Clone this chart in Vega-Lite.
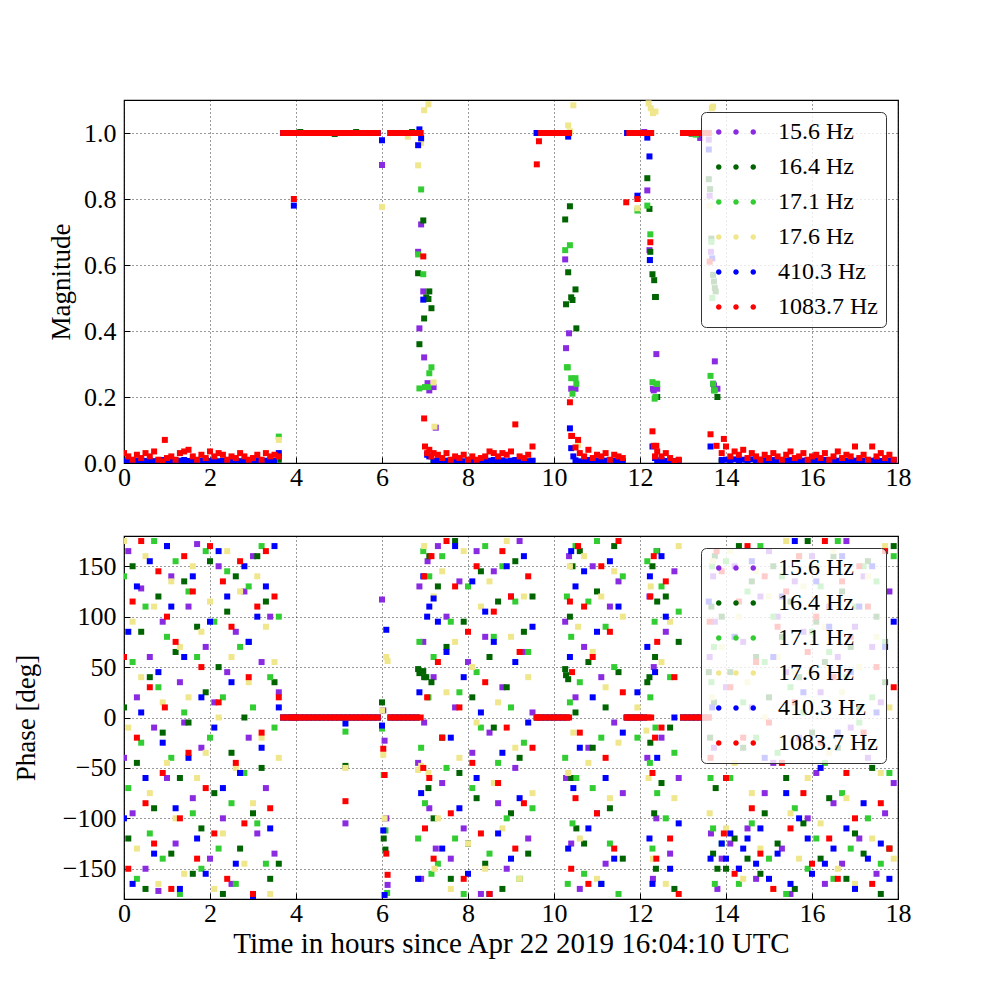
{
  "$schema": "https://vega.github.io/schema/vega-lite/v6.json",
  "description": "Magnitude and phase of six lines over 18 hours.",
  "padding": {"left": 11, "top": 99, "right": 0, "bottom": 0},
  "background": "white",
  "config": {
    "font": "Liberation Serif",
    "style": {"guide-label": {"font": "Liberation Serif"}, "guide-title": {"font": "Liberation Serif"}},
    "view": {"stroke": "black", "strokeWidth": 1.2},
    "square": {"size": 36, "opacity": 1, "strokeWidth": 0},
    "axis": {
      "labelFont": "Liberation Serif", "labelFontSize": 26, "labelColor": "black",
      "titleFont": "Liberation Serif", "titleFontSize": 27, "titleFontWeight": "normal", "titleColor": "black",
      "domain": false, "grid": true, "gridColor": "black", "gridDash": [1, 3], "gridWidth": 0.8, "gridOpacity": 1,
      "tickColor": "black", "tickSize": -6, "tickWidth": 1, "labelOverlap": false, "labelFlush": false
    },
    "axisX": {"labelPadding": 7},
    "axisY": {"labelPadding": 14}
  },
  "datasets": {
    "a": [
      {"t":0,"m":0.004,"p":-40},{"t":0.1,"m":0.005,"p":165},{"t":0.2,"m":0.003,"p":-95},{"t":0.3,"m":0.006,"p":20},{"t":0.4,"m":0.004,"p":128},{"t":0.5,"m":0.005,"p":-150},{"t":0.6,"m":0.003,"p":60},{"t":0.7,"m":0.006,"p":-10},{"t":0.8,"m":0.004,"p":-172},{"t":0.9,"m":0.005,"p":95},{"t":1,"m":0.003,"p":-60},{"t":1.1,"m":0.006,"p":140},{"t":1.2,"m":0.004,"p":-125},{"t":1.3,"m":0.005,"p":35},{"t":1.4,"m":0.003,"p":-5},{"t":1.5,"m":0.006,"p":110},{"t":1.6,"m":0.004,"p":-80},{"t":1.7,"m":0.005,"p":172},{"t":1.8,"m":0.003,"p":-30},{"t":1.9,"m":0.006,"p":70},{"t":2,"m":0.004,"p":-140},{"t":2.1,"m":0.005,"p":15},{"t":2.2,"m":0.003,"p":150},{"t":2.3,"m":0.006,"p":-100},{"t":2.4,"m":0.004,"p":45},{"t":2.5,"m":0.005,"p":-165},{"t":2.6,"m":0.003,"p":85},{"t":2.7,"m":0.006,"p":-55},{"t":2.8,"m":0.004,"p":125},{"t":2.9,"m":0.005,"p":-20},{"t":3,"m":0.003,"p":160},{"t":3.1,"m":0.006,"p":-115},{"t":3.2,"m":0.004,"p":55},{"t":3.3,"m":0.005,"p":-70},{"t":3.4,"m":0.003,"p":100},{"t":3.5,"m":0.006,"p":-135},{"t":3.6,"m":0.02,"p":25},
      {"t":3.7,"m":1,"p":0},{"t":3.8,"m":1,"p":0},{"t":3.9,"m":1,"p":0},{"t":4,"m":1,"p":0},{"t":4.1,"m":1,"p":0},{"t":4.2,"m":1,"p":0},{"t":4.3,"m":1,"p":0},{"t":4.4,"m":1,"p":0},{"t":4.5,"m":1,"p":0},{"t":4.6,"m":1,"p":0},{"t":4.7,"m":1,"p":0},{"t":4.8,"m":1,"p":0},{"t":4.9,"m":1,"p":0},{"t":5,"m":1,"p":0},{"t":5.1,"m":1,"p":0},{"t":5.15,"m":1,"p":-105},{"t":5.2,"m":1,"p":0},{"t":5.3,"m":1,"p":0},{"t":5.4,"m":1,"p":0},{"t":5.5,"m":1,"p":0},{"t":5.6,"m":1,"p":0},{"t":5.7,"m":1,"p":0},{"t":5.8,"m":1,"p":0},{"t":5.9,"m":1,"p":0},
      {"t":6,"m":0.903,"p":117},{"t":6.03,"m":1.15,"p":7},{"t":6.06,"m":1.15,"p":-23},{"t":6.1,"m":1.15,"p":-100},{"t":6.13,"m":1.15,"p":-166},
      {"t":6.2,"m":1,"p":0},{"t":6.3,"m":1,"p":0},{"t":6.4,"m":1,"p":0},{"t":6.5,"m":1,"p":0},{"t":6.6,"m":1,"p":0},{"t":6.7,"m":1,"p":0},{"t":6.8,"m":1,"p":0},
      {"t":6.84,"m":0.64,"p":-45},{"t":6.87,"m":0.408,"p":130},{"t":6.91,"m":0.723,"p":-160},{"t":6.96,"m":0.52,"p":75},{"t":6.98,"m":0.32,"p":-5},{"t":7.06,"m":0.242,"p":155},{"t":7.1,"m":0.22,"p":-90},{"t":7.2,"m":0.23,"p":40},{"t":7.25,"m":0.107,"p":-130},
      {"t":7.3,"m":0.004,"p":170},{"t":7.4,"m":0.005,"p":-65},{"t":7.5,"m":0.003,"p":100},{"t":7.6,"m":0.006,"p":-140},{"t":7.7,"m":0.004,"p":10},{"t":7.8,"m":0.005,"p":135},{"t":7.9,"m":0.003,"p":-110},{"t":8,"m":0.006,"p":55},{"t":8.1,"m":0.004,"p":-35},{"t":8.2,"m":0.005,"p":165},{"t":8.3,"m":0.003,"p":-175},{"t":8.4,"m":0.006,"p":80},{"t":8.5,"m":0.004,"p":-15},{"t":8.6,"m":0.005,"p":145},{"t":8.7,"m":0.003,"p":-85},{"t":8.8,"m":0.006,"p":30},{"t":8.9,"m":0.004,"p":-150},{"t":9,"m":0.005,"p":120},{"t":9.1,"m":0.003,"p":-50},{"t":9.2,"m":0.006,"p":175},{"t":9.3,"m":0.004,"p":65},{"t":9.4,"m":0.005,"p":-120},{"t":9.5,"m":0.003,"p":5},
      {"t":9.6,"m":1,"p":0},{"t":9.7,"m":1,"p":0},{"t":9.8,"m":1,"p":0},{"t":9.9,"m":1,"p":0},{"t":10,"m":1,"p":0},{"t":10.1,"m":1,"p":0},{"t":10.2,"m":1,"p":0},
      {"t":10.26,"m":0.617,"p":95},{"t":10.28,"m":0.348,"p":-60},{"t":10.35,"m":0.393,"p":160},{"t":10.4,"m":0.225,"p":-125},{"t":10.5,"m":0.225,"p":20},
      {"t":10.6,"m":0.004,"p":-170},{"t":10.7,"m":0.005,"p":70},{"t":10.8,"m":0.003,"p":-30},{"t":10.9,"m":0.006,"p":150},{"t":11,"m":0.004,"p":-95},{"t":11.1,"m":0.005,"p":40},{"t":11.2,"m":0.003,"p":-145},{"t":11.3,"m":0.006,"p":110},{"t":11.4,"m":0.004,"p":-5},{"t":11.5,"m":0.005,"p":135},{"t":11.6,"m":0.003,"p":-75},
      {"t":11.7,"m":1,"p":0},{"t":11.8,"m":1,"p":0},{"t":11.9,"m":1,"p":0},{"t":12,"m":1,"p":0},{"t":12.1,"m":1.003,"p":0},
      {"t":12.17,"m":0.826,"p":-40},{"t":12.22,"m":0.645,"p":120},{"t":12.3,"m":0.225,"p":-160},{"t":12.32,"m":0.22,"p":50},{"t":12.38,"m":0.33,"p":-100},{"t":12.4,"m":0.225,"p":165},
      {"t":12.5,"m":0.004,"p":-20},{"t":12.6,"m":0.005,"p":85},{"t":12.7,"m":0.003,"p":-135},{"t":12.8,"m":0.006,"p":145},{"t":12.9,"m":0.004,"p":-60},
      {"t":13,"m":1,"p":0},{"t":13.1,"m":1,"p":0},{"t":13.2,"m":1,"p":0},{"t":13.3,"m":1,"p":0},{"t":13.4,"m":0.985,"p":0},{"t":13.5,"m":1,"p":0},{"t":13.6,"m":0.98,"p":0},
      {"t":13.62,"m":0.81,"p":60},{"t":13.65,"m":0.64,"p":-115},{"t":13.7,"m":0.24,"p":140},{"t":13.72,"m":0.235,"p":-30},{"t":13.74,"m":0.308,"p":95},{"t":13.8,"m":0.225,"p":-170},
      {"t":13.9,"m":0.004,"p":-140},{"t":14,"m":0.005,"p":30},{"t":14.1,"m":0.003,"p":-125},{"t":14.2,"m":0.006,"p":150},{"t":14.3,"m":0.004,"p":-150},{"t":14.4,"m":0.005,"p":75},{"t":14.5,"m":0.003,"p":-110},{"t":14.6,"m":0.006,"p":10},{"t":14.7,"m":0.004,"p":-160},{"t":14.8,"m":0.005,"p":120},{"t":14.9,"m":0.003,"p":-75},{"t":15,"m":0.006,"p":165},{"t":15.1,"m":0.004,"p":-45},{"t":15.2,"m":0.005,"p":100},{"t":15.3,"m":0.003,"p":-130},{"t":15.4,"m":0.006,"p":45},{"t":15.5,"m":0.004,"p":-175},{"t":15.6,"m":0.005,"p":135},{"t":15.7,"m":0.003,"p":-20},{"t":15.8,"m":0.006,"p":85},{"t":15.9,"m":0.004,"p":-100},{"t":16,"m":0.005,"p":160},{"t":16.1,"m":0.003,"p":-55},{"t":16.2,"m":0.006,"p":25},{"t":16.3,"m":0.004,"p":-165},{"t":16.4,"m":0.005,"p":110},{"t":16.5,"m":0.003,"p":-85},{"t":16.6,"m":0.006,"p":60},{"t":16.7,"m":0.004,"p":-145},{"t":16.8,"m":0.005,"p":175},{"t":16.9,"m":0.003,"p":-10},{"t":17,"m":0.006,"p":90},{"t":17.1,"m":0.004,"p":-120},{"t":17.2,"m":0.005,"p":140},{"t":17.3,"m":0.003,"p":-40},{"t":17.4,"m":0.006,"p":70},{"t":17.5,"m":0.004,"p":-155},{"t":17.6,"m":0.005,"p":15},{"t":17.7,"m":0.003,"p":-95},{"t":17.8,"m":0.006,"p":125},{"t":17.9,"m":0.004,"p":-65}
    ],
    "b": [
      {"t":0,"m":0.005,"p":10},{"t":0.1,"m":0.003,"p":-120},{"t":0.2,"m":0.006,"p":150},{"t":0.3,"m":0.004,"p":-45},{"t":0.4,"m":0.005,"p":85},{"t":0.5,"m":0.003,"p":-170},{"t":0.6,"m":0.006,"p":40},{"t":0.7,"m":0.004,"p":-90},{"t":0.8,"m":0.005,"p":120},{"t":0.9,"m":0.003,"p":-15},{"t":1,"m":0.006,"p":170},{"t":1.1,"m":0.004,"p":-135},{"t":1.2,"m":0.005,"p":65},{"t":1.3,"m":0.003,"p":-60},{"t":1.4,"m":0.006,"p":135},{"t":1.5,"m":0.004,"p":-5},{"t":1.6,"m":0.005,"p":-155},{"t":1.7,"m":0.003,"p":90},{"t":1.8,"m":0.006,"p":-110},{"t":1.9,"m":0.004,"p":25},{"t":2,"m":0.005,"p":155},{"t":2.1,"m":0.003,"p":-75},{"t":2.2,"m":0.006,"p":50},{"t":2.3,"m":0.004,"p":-175},{"t":2.4,"m":0.005,"p":105},{"t":2.5,"m":0.003,"p":-35},{"t":2.6,"m":0.006,"p":140},{"t":2.7,"m":0.004,"p":-130},{"t":2.8,"m":0.005,"p":0},{"t":2.9,"m":0.003,"p":75},{"t":3,"m":0.006,"p":-95},{"t":3.1,"m":0.004,"p":160},{"t":3.2,"m":0.005,"p":-50},{"t":3.3,"m":0.003,"p":115},{"t":3.4,"m":0.006,"p":-160},{"t":3.5,"m":0.004,"p":35},{"t":3.6,"m":0.01,"p":-145},
      {"t":3.7,"m":1,"p":0},{"t":3.8,"m":1,"p":0},{"t":3.9,"m":1,"p":0},{"t":4,"m":1,"p":0},{"t":4.1,"m":1.003,"p":0},{"t":4.2,"m":1,"p":0},{"t":4.3,"m":1,"p":0},{"t":4.4,"m":1,"p":0},{"t":4.5,"m":1,"p":0},{"t":4.6,"m":1,"p":0},{"t":4.7,"m":1,"p":0},{"t":4.8,"m":1,"p":0},{"t":4.9,"m":0.997,"p":0},{"t":5,"m":1,"p":0},{"t":5.1,"m":1,"p":0},{"t":5.15,"m":1,"p":-48},{"t":5.2,"m":1,"p":0},{"t":5.3,"m":1,"p":0},{"t":5.4,"m":1.003,"p":0},{"t":5.5,"m":1,"p":0},{"t":5.6,"m":1,"p":0},{"t":5.7,"m":1,"p":0},{"t":5.8,"m":1,"p":0},{"t":5.9,"m":1,"p":0},
      {"t":6,"m":1.15,"p":15},{"t":6.04,"m":1.15,"p":-120},{"t":6.08,"m":1.15,"p":-131},
      {"t":6.2,"m":1,"p":0},{"t":6.3,"m":1,"p":0},{"t":6.4,"m":1,"p":0},{"t":6.5,"m":1,"p":0},{"t":6.6,"m":1,"p":0},{"t":6.7,"m":1.003,"p":0},{"t":6.8,"m":1,"p":0},
      {"t":6.84,"m":0.575,"p":48},{"t":6.87,"m":0.36,"p":44},{"t":6.96,"m":0.735,"p":46},{"t":6.98,"m":0.438,"p":40},{"t":7.03,"m":0.502,"p":40},{"t":7.08,"m":0.497,"p":-70},{"t":7.1,"m":0.52,"p":160},{"t":7.15,"m":0.469,"p":35},
      {"t":7.2,"m":0.005,"p":-100},{"t":7.3,"m":0.003,"p":130},{"t":7.4,"m":0.006,"p":-20},{"t":7.5,"m":0.004,"p":70},{"t":7.6,"m":0.005,"p":-160},{"t":7.7,"m":0.003,"p":175},{"t":7.8,"m":0.006,"p":-55},{"t":7.9,"m":0.004,"p":95},{"t":8,"m":0.005,"p":-125},{"t":8.1,"m":0.003,"p":20},{"t":8.2,"m":0.006,"p":-80},{"t":8.3,"m":0.004,"p":145},{"t":8.4,"m":0.005,"p":-145},{"t":8.5,"m":0.003,"p":60},{"t":8.6,"m":0.006,"p":-10},{"t":8.7,"m":0.004,"p":115},{"t":8.8,"m":0.005,"p":-170},{"t":8.9,"m":0.003,"p":30},{"t":9,"m":0.006,"p":-95},{"t":9.1,"m":0.004,"p":155},{"t":9.2,"m":0.005,"p":-40},{"t":9.3,"m":0.003,"p":85},{"t":9.4,"m":0.006,"p":-135},{"t":9.5,"m":0.004,"p":120},
      {"t":9.6,"m":1,"p":0},{"t":9.7,"m":1,"p":0},{"t":9.8,"m":1,"p":0},{"t":9.9,"m":1,"p":0},{"t":10,"m":1,"p":0},{"t":10.1,"m":1,"p":0},{"t":10.2,"m":1,"p":0},
      {"t":10.26,"m":0.738,"p":48},{"t":10.28,"m":0.481,"p":42},{"t":10.33,"m":0.578,"p":38},{"t":10.37,"m":0.778,"p":100},{"t":10.4,"m":0.502,"p":-60},{"t":10.43,"m":0.494,"p":150},{"t":10.5,"m":0.526,"p":5},{"t":10.52,"m":0.408,"p":-110},
      {"t":10.6,"m":0.005,"p":165},{"t":10.7,"m":0.003,"p":-125},{"t":10.8,"m":0.006,"p":55},{"t":10.9,"m":0.004,"p":-30},{"t":11,"m":0.005,"p":125},{"t":11.1,"m":0.003,"p":-165},{"t":11.2,"m":0.006,"p":10},{"t":11.3,"m":0.004,"p":-90},{"t":11.4,"m":0.005,"p":170},{"t":11.5,"m":0.003,"p":45},{"t":11.6,"m":0.006,"p":-140},
      {"t":11.7,"m":1,"p":0},{"t":11.8,"m":1,"p":0},{"t":11.9,"m":1,"p":0},{"t":12,"m":1,"p":0},{"t":12.1,"m":1,"p":0},
      {"t":12.17,"m":0.863,"p":35},{"t":12.22,"m":0.77,"p":40},{"t":12.24,"m":0.64,"p":-25},{"t":12.29,"m":0.572,"p":150},{"t":12.33,"m":0.554,"p":-95},{"t":12.35,"m":0.503,"p":60},{"t":12.37,"m":0.503,"p":-150},{"t":12.4,"m":0.2,"p":115},
      {"t":12.5,"m":0.005,"p":-65},{"t":12.6,"m":0.003,"p":120},{"t":12.7,"m":0.006,"p":-10},{"t":12.8,"m":0.004,"p":-170},{"t":12.9,"m":0.005,"p":75},
      {"t":13,"m":1,"p":0},{"t":13.1,"m":1,"p":0},{"t":13.2,"m":0.998,"p":0},{"t":13.3,"m":1,"p":0},{"t":13.4,"m":1,"p":0},{"t":13.5,"m":1,"p":0},
      {"t":13.6,"m":0.86,"p":45},{"t":13.63,"m":0.83,"p":-20},{"t":13.66,"m":0.68,"p":110},{"t":13.7,"m":0.57,"p":-135},{"t":13.72,"m":0.55,"p":15},{"t":13.74,"m":0.53,"p":160},{"t":13.76,"m":0.52,"p":-70},{"t":13.8,"m":0.2,"p":-150},
      {"t":13.9,"m":0.005,"p":100},{"t":14,"m":0.003,"p":-150},{"t":14.1,"m":0.006,"p":45},{"t":14.2,"m":0.004,"p":-120},{"t":14.3,"m":0.005,"p":170},{"t":14.4,"m":0.003,"p":-30},{"t":14.5,"m":0.006,"p":-140},{"t":14.6,"m":0.004,"p":135},{"t":14.7,"m":0.005,"p":60},{"t":14.8,"m":0.003,"p":-155},{"t":14.9,"m":0.006,"p":-95},{"t":15,"m":0.004,"p":20},{"t":15.1,"m":0.005,"p":150},{"t":15.2,"m":0.003,"p":-125},{"t":15.3,"m":0.006,"p":80},{"t":15.4,"m":0.004,"p":-60},{"t":15.5,"m":0.005,"p":115},{"t":15.6,"m":0.003,"p":-170},{"t":15.7,"m":0.006,"p":40},{"t":15.8,"m":0.004,"p":-105},{"t":15.9,"m":0.005,"p":175},{"t":16,"m":0.003,"p":-15},{"t":16.1,"m":0.006,"p":95},{"t":16.2,"m":0.004,"p":-140},{"t":16.3,"m":0.005,"p":55},{"t":16.4,"m":0.003,"p":-80},{"t":16.5,"m":0.006,"p":160},{"t":16.6,"m":0.004,"p":-30},{"t":16.7,"m":0.005,"p":125},{"t":16.8,"m":0.003,"p":-160},{"t":16.9,"m":0.006,"p":70},{"t":17,"m":0.004,"p":-115},{"t":17.1,"m":0.005,"p":10},{"t":17.2,"m":0.003,"p":-135},{"t":17.3,"m":0.006,"p":155},{"t":17.4,"m":0.004,"p":-50},{"t":17.5,"m":0.005,"p":100},{"t":17.6,"m":0.003,"p":-175},{"t":17.7,"m":0.006,"p":35},{"t":17.8,"m":0.004,"p":-130},{"t":17.9,"m":0.005,"p":170}
    ],
    "c": [
      {"t":0,"m":0.003,"p":140},{"t":0.1,"m":0.006,"p":-70},{"t":0.2,"m":0.004,"p":55},{"t":0.3,"m":0.005,"p":-160},{"t":0.4,"m":0.003,"p":-25},{"t":0.5,"m":0.006,"p":110},{"t":0.6,"m":0.004,"p":-115},{"t":0.7,"m":0.005,"p":175},{"t":0.8,"m":0.003,"p":30},{"t":0.9,"m":0.006,"p":-140},{"t":1,"m":0.004,"p":80},{"t":1.1,"m":0.005,"p":-40},{"t":1.2,"m":0.003,"p":155},{"t":1.3,"m":0.006,"p":-175},{"t":1.4,"m":0.004,"p":5},{"t":1.5,"m":0.005,"p":125},{"t":1.6,"m":0.003,"p":-95},{"t":1.7,"m":0.006,"p":60},{"t":1.8,"m":0.004,"p":-150},{"t":1.9,"m":0.005,"p":165},{"t":2,"m":0.003,"p":-20},{"t":2.1,"m":0.006,"p":95},{"t":2.2,"m":0.004,"p":-130},{"t":2.3,"m":0.005,"p":20},{"t":2.4,"m":0.003,"p":145},{"t":2.5,"m":0.006,"p":-85},{"t":2.6,"m":0.004,"p":-165},{"t":2.7,"m":0.005,"p":70},{"t":2.8,"m":0.003,"p":-55},{"t":2.9,"m":0.006,"p":130},{"t":3,"m":0.004,"p":10},{"t":3.1,"m":0.005,"p":-105},{"t":3.2,"m":0.003,"p":170},{"t":3.3,"m":0.006,"p":-145},{"t":3.4,"m":0.004,"p":40},{"t":3.5,"m":0.005,"p":-10},{"t":3.6,"m":0.08,"p":100},
      {"t":3.7,"m":1,"p":0},{"t":3.8,"m":1,"p":0},{"t":3.9,"m":1,"p":0},{"t":4,"m":1,"p":0},{"t":4.1,"m":1,"p":0},{"t":4.2,"m":1,"p":0},{"t":4.3,"m":1,"p":0},{"t":4.4,"m":1,"p":0},{"t":4.5,"m":1,"p":0},{"t":4.6,"m":1,"p":0},{"t":4.7,"m":1,"p":0},{"t":4.8,"m":1,"p":0},{"t":4.9,"m":1,"p":0},{"t":5,"m":1,"p":0},{"t":5.1,"m":1,"p":0},{"t":5.15,"m":1,"p":-14},{"t":5.2,"m":1,"p":0},{"t":5.3,"m":1,"p":0},{"t":5.4,"m":1,"p":0},{"t":5.5,"m":1,"p":0},{"t":5.6,"m":1,"p":0},{"t":5.7,"m":1,"p":0},{"t":5.8,"m":1,"p":0},{"t":5.9,"m":1,"p":0},
      {"t":6,"m":1.15,"p":-11},{"t":6.04,"m":1.15,"p":-57},{"t":6.08,"m":1.15,"p":-112},{"t":6.12,"m":1.15,"p":-174},
      {"t":6.2,"m":1,"p":0},{"t":6.3,"m":1,"p":0},{"t":6.4,"m":1,"p":0},{"t":6.5,"m":1,"p":0},{"t":6.6,"m":1,"p":0},{"t":6.7,"m":1,"p":0},{"t":6.8,"m":1,"p":0},
      {"t":6.84,"m":0.632,"p":-120},{"t":6.87,"m":0.226,"p":75},{"t":6.91,"m":0.829,"p":-30},{"t":6.96,"m":0.572,"p":165},{"t":7,"m":0.23,"p":-85},{"t":7.08,"m":0.23,"p":20},{"t":7.1,"m":0.272,"p":140},{"t":7.15,"m":0.29,"p":-155},
      {"t":7.2,"m":0.003,"p":60},{"t":7.3,"m":0.006,"p":-145},{"t":7.4,"m":0.004,"p":160},{"t":7.5,"m":0.005,"p":-50},{"t":7.6,"m":0.003,"p":95},{"t":7.7,"m":0.006,"p":-120},{"t":7.8,"m":0.004,"p":25},{"t":7.9,"m":0.005,"p":-175},{"t":8,"m":0.003,"p":130},{"t":8.1,"m":0.006,"p":-70},{"t":8.2,"m":0.004,"p":45},{"t":8.3,"m":0.005,"p":-10},{"t":8.4,"m":0.003,"p":170},{"t":8.5,"m":0.006,"p":-135},{"t":8.6,"m":0.004,"p":80},{"t":8.7,"m":0.005,"p":-45},{"t":8.8,"m":0.003,"p":150},{"t":8.9,"m":0.006,"p":-100},{"t":9,"m":0.004,"p":10},{"t":9.1,"m":0.005,"p":115},{"t":9.2,"m":0.003,"p":-160},{"t":9.3,"m":0.006,"p":-25},{"t":9.4,"m":0.004,"p":65},{"t":9.5,"m":0.005,"p":-90},
      {"t":9.6,"m":1,"p":0},{"t":9.7,"m":1,"p":0},{"t":9.8,"m":1,"p":0},{"t":9.9,"m":1,"p":0},{"t":10,"m":1,"p":0},{"t":10.1,"m":1,"p":0},{"t":10.2,"m":1,"p":0},
      {"t":10.26,"m":0.645,"p":-40},{"t":10.3,"m":0.29,"p":120},{"t":10.32,"m":0.29,"p":-165},{"t":10.37,"m":0.66,"p":15},{"t":10.4,"m":0.257,"p":80},{"t":10.43,"m":0.21,"p":-105},{"t":10.5,"m":0.257,"p":170},{"t":10.52,"m":0.24,"p":-60},
      {"t":10.6,"m":0.003,"p":35},{"t":10.7,"m":0.006,"p":-155},{"t":10.8,"m":0.004,"p":115},{"t":10.9,"m":0.005,"p":-70},{"t":11,"m":0.003,"p":175},{"t":11.1,"m":0.006,"p":-20},{"t":11.2,"m":0.004,"p":90},{"t":11.3,"m":0.005,"p":-125},{"t":11.4,"m":0.003,"p":50},{"t":11.5,"m":0.006,"p":-175},{"t":11.6,"m":0.004,"p":140},
      {"t":11.7,"m":1,"p":0},{"t":11.8,"m":1,"p":0},{"t":11.9,"m":1,"p":0},{"t":11.94,"m":0.765,"p":-20},{"t":12,"m":1,"p":0},{"t":12.1,"m":1,"p":0},
      {"t":12.17,"m":0.78,"p":155},{"t":12.23,"m":0.615,"p":-45},{"t":12.24,"m":0.693,"p":20},{"t":12.29,"m":0.245,"p":-130},{"t":12.34,"m":0.195,"p":95},{"t":12.36,"m":0.2,"p":-10},{"t":12.38,"m":0.24,"p":165},{"t":12.4,"m":0.24,"p":-75},
      {"t":12.5,"m":0.003,"p":130},{"t":12.6,"m":0.006,"p":-100},{"t":12.7,"m":0.004,"p":40},{"t":12.8,"m":0.005,"p":-35},{"t":12.9,"m":0.003,"p":105},
      {"t":13,"m":1,"p":0},{"t":13.1,"m":1,"p":0},{"t":13.2,"m":1,"p":0},{"t":13.3,"m":0.995,"p":0},{"t":13.4,"m":1,"p":0},{"t":13.5,"m":1,"p":0},{"t":13.6,"m":1,"p":0},
      {"t":13.64,"m":0.264,"p":-60},{"t":13.66,"m":0.67,"p":35},{"t":13.68,"m":0.5,"p":150},{"t":13.7,"m":0.24,"p":-110},{"t":13.72,"m":0.22,"p":70},{"t":13.74,"m":0.22,"p":-165},
      {"t":13.9,"m":0.003,"p":-125},{"t":14,"m":0.006,"p":155},{"t":14.1,"m":0.004,"p":-60},{"t":14.2,"m":0.005,"p":80},{"t":14.3,"m":0.003,"p":-165},{"t":14.4,"m":0.006,"p":15},{"t":14.5,"m":0.004,"p":125},{"t":14.6,"m":0.005,"p":-105},{"t":14.7,"m":0.003,"p":-20},{"t":14.8,"m":0.006,"p":170},{"t":14.9,"m":0.004,"p":55},{"t":15,"m":0.005,"p":-140},{"t":15.1,"m":0.003,"p":100},{"t":15.2,"m":0.006,"p":-35},{"t":15.3,"m":0.004,"p":140},{"t":15.4,"m":0.005,"p":-175},{"t":15.5,"m":0.003,"p":30},{"t":15.6,"m":0.006,"p":-90},{"t":15.7,"m":0.004,"p":160},{"t":15.8,"m":0.005,"p":5},{"t":15.9,"m":0.003,"p":-150},{"t":16,"m":0.006,"p":85},{"t":16.1,"m":0.004,"p":-120},{"t":16.2,"m":0.005,"p":130},{"t":16.3,"m":0.003,"p":-45},{"t":16.4,"m":0.006,"p":65},{"t":16.5,"m":0.004,"p":-160},{"t":16.6,"m":0.005,"p":175},{"t":16.7,"m":0.003,"p":-75},{"t":16.8,"m":0.006,"p":40},{"t":16.9,"m":0.004,"p":-130},{"t":17,"m":0.005,"p":110},{"t":17.1,"m":0.003,"p":-5},{"t":17.2,"m":0.006,"p":150},{"t":17.3,"m":0.004,"p":-100},{"t":17.4,"m":0.005,"p":20},{"t":17.5,"m":0.003,"p":135},{"t":17.6,"m":0.006,"p":-145},{"t":17.7,"m":0.004,"p":75},{"t":17.8,"m":0.005,"p":-55},{"t":17.9,"m":0.003,"p":160}
    ],
    "d": [
      {"t":0,"m":0.006,"p":175},{"t":0.1,"m":0.004,"p":-10},{"t":0.2,"m":0.005,"p":95},{"t":0.3,"m":0.003,"p":-130},{"t":0.4,"m":0.006,"p":40},{"t":0.5,"m":0.004,"p":160},{"t":0.6,"m":0.005,"p":-75},{"t":0.7,"m":0.003,"p":110},{"t":0.8,"m":0.006,"p":-165},{"t":0.9,"m":0.004,"p":15},{"t":1,"m":0.005,"p":-45},{"t":1.1,"m":0.003,"p":135},{"t":1.2,"m":0.006,"p":-100},{"t":1.3,"m":0.004,"p":70},{"t":1.4,"m":0.005,"p":-155},{"t":1.5,"m":0.003,"p":20},{"t":1.6,"m":0.006,"p":150},{"t":1.7,"m":0.004,"p":-60},{"t":1.8,"m":0.005,"p":85},{"t":1.9,"m":0.003,"p":-35},{"t":2,"m":0.006,"p":115},{"t":2.1,"m":0.004,"p":-170},{"t":2.2,"m":0.005,"p":0},{"t":2.3,"m":0.003,"p":-115},{"t":2.4,"m":0.006,"p":165},{"t":2.5,"m":0.004,"p":60},{"t":2.6,"m":0.005,"p":-50},{"t":2.7,"m":0.003,"p":125},{"t":2.8,"m":0.006,"p":-145},{"t":2.9,"m":0.004,"p":35},{"t":3,"m":0.005,"p":-85},{"t":3.1,"m":0.003,"p":140},{"t":3.2,"m":0.006,"p":-20},{"t":3.3,"m":0.004,"p":90},{"t":3.4,"m":0.005,"p":-175},{"t":3.5,"m":0.003,"p":55},{"t":3.6,"m":0.07,"p":-40},
      {"t":3.7,"m":1,"p":0},{"t":3.8,"m":1,"p":0},{"t":3.9,"m":1,"p":0},{"t":4,"m":1,"p":0},{"t":4.1,"m":1,"p":0},{"t":4.2,"m":1,"p":0},{"t":4.3,"m":1,"p":0},{"t":4.4,"m":1,"p":0},{"t":4.5,"m":1,"p":0},{"t":4.6,"m":1,"p":0},{"t":4.7,"m":1,"p":0},{"t":4.8,"m":1,"p":0},{"t":4.9,"m":1,"p":0},{"t":5,"m":1,"p":0},{"t":5.1,"m":1,"p":0},{"t":5.15,"m":1,"p":-50},{"t":5.2,"m":1,"p":0},{"t":5.3,"m":1,"p":0},{"t":5.4,"m":1,"p":0},{"t":5.5,"m":1,"p":0},{"t":5.6,"m":1,"p":0},{"t":5.7,"m":1,"p":0},{"t":5.8,"m":1,"p":0},{"t":5.9,"m":1,"p":0},
      {"t":6,"m":0.776,"p":7},{"t":6.03,"m":1.15,"p":-37},{"t":6.06,"m":1.15,"p":-100},{"t":6.1,"m":1.15,"p":60},{"t":6.13,"m":1.15,"p":56},
      {"t":6.2,"m":1,"p":0},{"t":6.3,"m":1,"p":0},{"t":6.4,"m":1,"p":0},{"t":6.5,"m":1,"p":0},{"t":6.6,"m":0.989,"p":0},{"t":6.7,"m":1,"p":0},{"t":6.8,"m":1,"p":0},
      {"t":6.84,"m":0.902,"p":-52},{"t":6.91,"m":0.97,"p":-48},{"t":6.98,"m":1.069,"p":170},{"t":7.08,"m":1.087,"p":-55},{"t":7.2,"m":0.244,"p":120},{"t":7.22,"m":0.11,"p":-150},
      {"t":7.3,"m":0.006,"p":-100},{"t":7.4,"m":0.004,"p":145},{"t":7.5,"m":0.005,"p":25},{"t":7.6,"m":0.003,"p":-170},{"t":7.7,"m":0.006,"p":75},{"t":7.8,"m":0.004,"p":-40},{"t":7.9,"m":0.005,"p":165},{"t":8,"m":0.003,"p":-125},{"t":8.1,"m":0.006,"p":50},{"t":8.2,"m":0.004,"p":-5},{"t":8.3,"m":0.005,"p":110},{"t":8.4,"m":0.003,"p":-150},{"t":8.5,"m":0.006,"p":135},{"t":8.6,"m":0.004,"p":-65},{"t":8.7,"m":0.005,"p":15},{"t":8.8,"m":0.003,"p":-110},{"t":8.9,"m":0.006,"p":175},{"t":9,"m":0.004,"p":80},{"t":9.1,"m":0.005,"p":-30},{"t":9.2,"m":0.003,"p":-160},{"t":9.3,"m":0.006,"p":120},{"t":9.4,"m":0.004,"p":40},{"t":9.5,"m":0.005,"p":-75},
      {"t":9.6,"m":1,"p":0},{"t":9.7,"m":1,"p":0},{"t":9.8,"m":1,"p":0},{"t":9.9,"m":1,"p":0},{"t":10,"m":1,"p":0},{"t":10.1,"m":1,"p":0},{"t":10.2,"m":1,"p":0},{"t":10.3,"m":1,"p":0},
      {"t":10.33,"m":1.023,"p":-55},{"t":10.37,"m":1.005,"p":150},{"t":10.45,"m":1.084,"p":-15},{"t":10.56,"m":0.055,"p":90},
      {"t":10.6,"m":0.006,"p":-120},{"t":10.7,"m":0.004,"p":160},{"t":10.8,"m":0.005,"p":-45},{"t":10.9,"m":0.003,"p":65},{"t":11,"m":0.006,"p":-160},{"t":11.1,"m":0.004,"p":120},{"t":11.2,"m":0.005,"p":30},{"t":11.3,"m":0.003,"p":-80},{"t":11.4,"m":0.006,"p":145},{"t":11.5,"m":0.004,"p":-25},{"t":11.6,"m":0.005,"p":100},
      {"t":11.7,"m":1,"p":0},{"t":11.8,"m":1,"p":0},{"t":11.9,"m":1,"p":0},{"t":11.94,"m":0.772,"p":10},{"t":12,"m":1,"p":0},{"t":12.1,"m":1,"p":0},
      {"t":12.15,"m":1,"p":-13},{"t":12.2,"m":1.09,"p":-60},{"t":12.25,"m":1.075,"p":130},{"t":12.3,"m":1.06,"p":-140},{"t":12.36,"m":1.065,"p":45},
      {"t":12.5,"m":0.006,"p":55},{"t":12.6,"m":0.004,"p":-165},{"t":12.7,"m":0.005,"p":95},{"t":12.8,"m":0.003,"p":-80},{"t":12.9,"m":0.006,"p":170},
      {"t":13,"m":1,"p":0},{"t":13.1,"m":1,"p":0},{"t":13.2,"m":1,"p":0},{"t":13.3,"m":1,"p":0},{"t":13.4,"m":1,"p":0},{"t":13.5,"m":1,"p":0},{"t":13.6,"m":1,"p":0},
      {"t":13.62,"m":0.78,"p":-95},{"t":13.67,"m":1.075,"p":20},{"t":13.7,"m":1.08,"p":155},
      {"t":13.9,"m":0.006,"p":70},{"t":14,"m":0.004,"p":-110},{"t":14.1,"m":0.005,"p":165},{"t":14.2,"m":0.003,"p":-45},{"t":14.3,"m":0.006,"p":100},{"t":14.4,"m":0.004,"p":-160},{"t":14.5,"m":0.005,"p":35},{"t":14.6,"m":0.003,"p":-75},{"t":14.7,"m":0.006,"p":145},{"t":14.8,"m":0.004,"p":-130},{"t":14.9,"m":0.005,"p":0},{"t":15,"m":0.003,"p":120},{"t":15.1,"m":0.006,"p":-170},{"t":15.2,"m":0.004,"p":60},{"t":15.3,"m":0.005,"p":-20},{"t":15.4,"m":0.003,"p":175},{"t":15.5,"m":0.006,"p":-95},{"t":15.6,"m":0.004,"p":45},{"t":15.7,"m":0.005,"p":-140},{"t":15.8,"m":0.003,"p":130},{"t":15.9,"m":0.006,"p":-60},{"t":16,"m":0.004,"p":15},{"t":16.1,"m":0.005,"p":150},{"t":16.2,"m":0.003,"p":-105},{"t":16.3,"m":0.006,"p":90},{"t":16.4,"m":0.004,"p":-35},{"t":16.5,"m":0.005,"p":165},{"t":16.6,"m":0.003,"p":-150},{"t":16.7,"m":0.006,"p":25},{"t":16.8,"m":0.004,"p":-80},{"t":16.9,"m":0.005,"p":115},{"t":17,"m":0.003,"p":-165},{"t":17.1,"m":0.006,"p":50},{"t":17.2,"m":0.004,"p":-25},{"t":17.3,"m":0.005,"p":140},{"t":17.4,"m":0.003,"p":-120},{"t":17.5,"m":0.006,"p":80},{"t":17.6,"m":0.004,"p":-55},{"t":17.7,"m":0.005,"p":170},{"t":17.8,"m":0.003,"p":10},{"t":17.9,"m":0.006,"p":-140}
    ],
    "e": [
      {"t":0,"m":0.006,"p":-100},{"t":0.1,"m":0.008,"p":85},{"t":0.2,"m":0.005,"p":-165},{"t":0.3,"m":0.007,"p":130},{"t":0.4,"m":0.009,"p":5},{"t":0.5,"m":0.006,"p":-60},{"t":0.6,"m":0.008,"p":155},{"t":0.7,"m":0.005,"p":-135},{"t":0.8,"m":0.007,"p":45},{"t":0.9,"m":0.009,"p":-25},{"t":1,"m":0.006,"p":170},{"t":1.1,"m":0.008,"p":110},{"t":1.2,"m":0.005,"p":-90},{"t":1.3,"m":0.007,"p":-170},{"t":1.4,"m":0.009,"p":60},{"t":1.5,"m":0.006,"p":-40},{"t":1.6,"m":0.008,"p":140},{"t":1.7,"m":0.005,"p":-120},{"t":1.8,"m":0.007,"p":20},{"t":1.9,"m":0.009,"p":-155},{"t":2,"m":0.006,"p":95},{"t":2.1,"m":0.008,"p":-10},{"t":2.2,"m":0.005,"p":165},{"t":2.3,"m":0.007,"p":-70},{"t":2.4,"m":0.009,"p":120},{"t":2.5,"m":0.006,"p":35},{"t":2.6,"m":0.008,"p":-145},{"t":2.7,"m":0.005,"p":-55},{"t":2.8,"m":0.007,"p":150},{"t":2.9,"m":0.009,"p":75},{"t":3,"m":0.006,"p":-178},{"t":3.1,"m":0.008,"p":100},{"t":3.2,"m":0.005,"p":-30},{"t":3.3,"m":0.007,"p":130},{"t":3.4,"m":0.009,"p":-110},{"t":3.5,"m":0.006,"p":170},{"t":3.6,"m":0.03,"p":10},
      {"t":3.7,"m":1,"p":0},{"t":3.8,"m":1,"p":0},{"t":3.9,"m":1,"p":0},{"t":3.95,"m":0.78,"p":0},{"t":4,"m":1,"p":0},{"t":4.1,"m":1,"p":0},{"t":4.2,"m":1,"p":0},{"t":4.3,"m":1,"p":0},{"t":4.4,"m":1,"p":0},{"t":4.5,"m":1,"p":0},{"t":4.6,"m":1,"p":0},{"t":4.7,"m":1,"p":0},{"t":4.8,"m":1,"p":0},{"t":4.9,"m":1,"p":0},{"t":5,"m":1,"p":0},{"t":5.1,"m":1,"p":0},{"t":5.15,"m":1,"p":-6},{"t":5.2,"m":1,"p":0},{"t":5.3,"m":1,"p":0},{"t":5.4,"m":1,"p":0},{"t":5.5,"m":1,"p":0},{"t":5.6,"m":1,"p":0},{"t":5.7,"m":1,"p":0},{"t":5.8,"m":1,"p":0},{"t":5.9,"m":1,"p":0},
      {"t":6,"m":0.978,"p":-8},{"t":6.03,"m":1.15,"p":-112},{"t":6.06,"m":1.15,"p":-176},{"t":6.1,"m":1.15,"p":87},
      {"t":6.2,"m":1,"p":0},{"t":6.3,"m":1,"p":0},{"t":6.4,"m":1,"p":0},{"t":6.5,"m":1,"p":0},{"t":6.6,"m":1,"p":0},{"t":6.7,"m":1,"p":0},{"t":6.8,"m":1,"p":0},
      {"t":6.84,"m":0.963,"p":-160},{"t":6.87,"m":1.011,"p":25},{"t":6.91,"m":0.984,"p":-75},{"t":6.96,"m":0.495,"p":140},{"t":7.05,"m":0.025,"p":100},{"t":7.1,"m":0.02,"p":110},
      {"t":7.2,"m":0.006,"p":118},{"t":7.3,"m":0.008,"p":95},{"t":7.4,"m":0.005,"p":-130},{"t":7.5,"m":0.007,"p":65},{"t":7.6,"m":0.009,"p":-20},{"t":7.7,"m":0.006,"p":170},{"t":7.8,"m":0.008,"p":-90},{"t":7.9,"m":0.005,"p":40},{"t":8,"m":0.007,"p":-155},{"t":8.1,"m":0.009,"p":135},{"t":8.2,"m":0.006,"p":-60},{"t":8.3,"m":0.008,"p":5},{"t":8.4,"m":0.005,"p":105},{"t":8.5,"m":0.007,"p":-175},{"t":8.6,"m":0.009,"p":75},{"t":8.7,"m":0.006,"p":-115},{"t":8.8,"m":0.008,"p":-35},{"t":8.9,"m":0.005,"p":150},{"t":9,"m":0.007,"p":-140},{"t":9.1,"m":0.009,"p":55},{"t":9.2,"m":0.006,"p":-80},{"t":9.3,"m":0.008,"p":160},{"t":9.4,"m":0.005,"p":-5},{"t":9.5,"m":0.007,"p":90},
      {"t":9.6,"m":1,"p":0},{"t":9.7,"m":1,"p":0},{"t":9.8,"m":1,"p":0},{"t":9.9,"m":1,"p":0},{"t":10,"m":1,"p":0},{"t":10.1,"m":1,"p":0},{"t":10.2,"m":1,"p":0},{"t":10.3,"m":1,"p":0},
      {"t":10.33,"m":0.989,"p":-130},{"t":10.37,"m":0.105,"p":60},{"t":10.4,"m":0.045,"p":165},{"t":10.45,"m":0.02,"p":-70},
      {"t":10.5,"m":0.008,"p":130},{"t":10.6,"m":0.005,"p":-30},{"t":10.7,"m":0.007,"p":145},{"t":10.8,"m":0.009,"p":-110},{"t":10.9,"m":0.006,"p":20},{"t":11,"m":0.008,"p":85},{"t":11.1,"m":0.005,"p":-165},{"t":11.2,"m":0.007,"p":-60},{"t":11.3,"m":0.009,"p":155},{"t":11.4,"m":0.006,"p":-140},{"t":11.5,"m":0.008,"p":110},{"t":11.6,"m":0.005,"p":-15},
      {"t":11.7,"m":1,"p":0},{"t":11.8,"m":1,"p":0},{"t":11.9,"m":1,"p":0},{"t":11.94,"m":0.81,"p":25},{"t":12,"m":1,"p":0},{"t":12.1,"m":1,"p":0},
      {"t":12.17,"m":0.986,"p":70},{"t":12.22,"m":0.929,"p":-120},{"t":12.23,"m":0.615,"p":140},{"t":12.29,"m":0.05,"p":-165},{"t":12.35,"m":0.015,"p":45},
      {"t":12.4,"m":0.007,"p":-40},{"t":12.5,"m":0.009,"p":160},{"t":12.6,"m":0.006,"p":100},{"t":12.7,"m":0.008,"p":-150},{"t":12.8,"m":0.005,"p":0},{"t":12.9,"m":0.007,"p":-105},
      {"t":13,"m":1,"p":0},{"t":13.1,"m":1,"p":0},{"t":13.2,"m":1,"p":0},{"t":13.3,"m":1,"p":0},{"t":13.4,"m":1,"p":0},{"t":13.5,"m":1,"p":0},
      {"t":13.6,"m":0.95,"p":115},{"t":13.64,"m":0.05,"p":-140},{"t":13.68,"m":0.62,"p":10},
      {"t":13.9,"m":0.009,"p":-125},{"t":14,"m":0.01,"p":-140},{"t":14.1,"m":0.008,"p":-115},{"t":14.2,"m":0.011,"p":80},{"t":14.3,"m":0.009,"p":-150},{"t":14.4,"m":0.01,"p":-130},{"t":14.5,"m":0.008,"p":-120},{"t":14.6,"m":0.011,"p":155},{"t":14.7,"m":0.009,"p":-145},{"t":14.8,"m":0.01,"p":-110},{"t":14.9,"m":0.008,"p":-40},{"t":15,"m":0.007,"p":-160},{"t":15.1,"m":0.009,"p":60},{"t":15.2,"m":0.006,"p":-135},{"t":15.3,"m":0.008,"p":120},{"t":15.4,"m":0.007,"p":-75},{"t":15.5,"m":0.009,"p":-165},{"t":15.6,"m":0.006,"p":175},{"t":15.7,"m":0.008,"p":-100},{"t":15.8,"m":0.007,"p":25},{"t":15.9,"m":0.009,"p":-120},{"t":16,"m":0.006,"p":-155},{"t":16.1,"m":0.008,"p":135},{"t":16.2,"m":0.007,"p":-50},{"t":16.3,"m":0.009,"p":-145},{"t":16.4,"m":0.006,"p":90},{"t":16.5,"m":0.008,"p":-130},{"t":16.6,"m":0.007,"p":-15},{"t":16.7,"m":0.009,"p":160},{"t":16.8,"m":0.006,"p":-110},{"t":16.9,"m":0.008,"p":45},{"t":17,"m":0.007,"p":-170},{"t":17.1,"m":0.009,"p":110},{"t":17.2,"m":0.006,"p":-85},{"t":17.3,"m":0.008,"p":-140},{"t":17.4,"m":0.007,"p":150},{"t":17.5,"m":0.009,"p":5},{"t":17.6,"m":0.006,"p":-125},{"t":17.7,"m":0.008,"p":70},{"t":17.8,"m":0.007,"p":-160},{"t":17.9,"m":0.009,"p":95}
    ],
    "f": [
      {"t":0,"m":0.03,"p":60},{"t":0.1,"m":0.02,"p":-150},{"t":0.2,"m":0.01,"p":115},{"t":0.3,"m":0.025,"p":-20},{"t":0.4,"m":0.015,"p":175},{"t":0.5,"m":0.03,"p":-85},{"t":0.6,"m":0.02,"p":30},{"t":0.7,"m":0.035,"p":-125},{"t":0.8,"m":0.01,"p":145},{"t":0.9,"m":0.005,"p":-55},{"t":0.95,"m":0.07,"p":10},{"t":1,"m":0.015,"p":100},{"t":1.1,"m":0.02,"p":-170},{"t":1.2,"m":0.01,"p":75},{"t":1.3,"m":0.03,"p":-100},{"t":1.4,"m":0.035,"p":160},{"t":1.5,"m":0.04,"p":-35},{"t":1.6,"m":0.02,"p":125},{"t":1.7,"m":0.01,"p":-140},{"t":1.8,"m":0.025,"p":50},{"t":1.9,"m":0.015,"p":-70},{"t":2,"m":0.035,"p":170},{"t":2.1,"m":0.02,"p":-115},{"t":2.2,"m":0.03,"p":15},{"t":2.3,"m":0.025,"p":135},{"t":2.4,"m":0.01,"p":-160},{"t":2.5,"m":0.02,"p":90},{"t":2.6,"m":0.015,"p":-45},{"t":2.7,"m":0.03,"p":155},{"t":2.8,"m":0.02,"p":-105},{"t":2.9,"m":0.01,"p":40},{"t":3,"m":0.015,"p":-175},{"t":3.1,"m":0.025,"p":110},{"t":3.2,"m":0.01,"p":-15},{"t":3.3,"m":0.03,"p":165},{"t":3.4,"m":0.02,"p":-90},{"t":3.5,"m":0.025,"p":120},{"t":3.6,"m":0.02,"p":20},
      {"t":3.7,"m":1,"p":0},{"t":3.8,"m":1,"p":0},{"t":3.9,"m":1,"p":0},{"t":3.95,"m":0.8,"p":0},{"t":4,"m":1,"p":0},{"t":4.1,"m":1,"p":0},{"t":4.2,"m":1,"p":0},{"t":4.3,"m":1,"p":0},{"t":4.4,"m":1,"p":0},{"t":4.5,"m":1,"p":0},{"t":4.6,"m":1,"p":0},{"t":4.7,"m":1,"p":0},{"t":4.8,"m":1,"p":0},{"t":4.9,"m":1,"p":0},{"t":5,"m":1,"p":0},{"t":5.1,"m":1,"p":0},{"t":5.15,"m":1,"p":-83},{"t":5.2,"m":1,"p":0},{"t":5.3,"m":1,"p":0},{"t":5.4,"m":1,"p":0},{"t":5.5,"m":1,"p":0},{"t":5.6,"m":1,"p":0},{"t":5.7,"m":1,"p":0},{"t":5.8,"m":1,"p":0},{"t":5.9,"m":1,"p":0},
      {"t":6.03,"m":1.15,"p":-31},{"t":6.06,"m":1.15,"p":-57},{"t":6.1,"m":1.15,"p":-135},{"t":6.13,"m":1.15,"p":-156},
      {"t":6.2,"m":1,"p":0},{"t":6.3,"m":1,"p":0},{"t":6.4,"m":1,"p":0},{"t":6.5,"m":1,"p":0},{"t":6.6,"m":1,"p":0},{"t":6.7,"m":1,"p":0},{"t":6.8,"m":1,"p":0},{"t":6.9,"m":1,"p":0},
      {"t":6.96,"m":0.626,"p":-50},{"t":6.98,"m":0.135,"p":140},{"t":7,"m":0.05,"p":-110},{"t":7.05,"m":0.03,"p":20},{"t":7.1,"m":0.04,"p":-60},{"t":7.15,"m":0.02,"p":160},
      {"t":7.2,"m":0.03,"p":-140},{"t":7.3,"m":0.025,"p":55},{"t":7.4,"m":0.015,"p":-20},{"t":7.5,"m":0.03,"p":175},{"t":7.6,"m":0.01,"p":-95},{"t":7.7,"m":0.02,"p":130},{"t":7.8,"m":0.015,"p":10},{"t":7.9,"m":0.025,"p":-160},{"t":8,"m":0.01,"p":85},{"t":8.1,"m":0.02,"p":-45},{"t":8.2,"m":0.01,"p":150},{"t":8.3,"m":0.015,"p":-115},{"t":8.4,"m":0.02,"p":35},{"t":8.5,"m":0.035,"p":-175},{"t":8.6,"m":0.03,"p":105},{"t":8.7,"m":0.02,"p":-65},{"t":8.8,"m":0.03,"p":165},{"t":8.9,"m":0.025,"p":-10},{"t":9,"m":0.035,"p":120},{"t":9.1,"m":0.117,"p":-130},{"t":9.2,"m":0.02,"p":65},{"t":9.3,"m":0.015,"p":-85},{"t":9.4,"m":0.025,"p":140},{"t":9.5,"m":0.05,"p":-30},
      {"t":9.6,"m":0.905,"p":0},{"t":9.65,"m":0.975,"p":0},{"t":9.7,"m":1,"p":0},{"t":9.8,"m":1,"p":0},{"t":9.9,"m":1,"p":0},{"t":10,"m":1,"p":0},{"t":10.1,"m":1,"p":0},{"t":10.2,"m":1,"p":0},{"t":10.3,"m":1,"p":0},{"t":10.35,"m":1,"p":0},
      {"t":10.37,"m":0.184,"p":115},{"t":10.4,"m":0.082,"p":-150},{"t":10.42,"m":0.082,"p":45},{"t":10.5,"m":0.047,"p":-80},{"t":10.56,"m":0.07,"p":170},
      {"t":10.6,"m":0.03,"p":-15},{"t":10.7,"m":0.02,"p":110},{"t":10.8,"m":0.04,"p":-165},{"t":10.9,"m":0.015,"p":60},{"t":11,"m":0.025,"p":-95},{"t":11.1,"m":0.02,"p":150},{"t":11.2,"m":0.03,"p":-40},{"t":11.3,"m":0.01,"p":85},{"t":11.4,"m":0.025,"p":-130},{"t":11.5,"m":0.02,"p":175},{"t":11.6,"m":0.015,"p":25},
      {"t":11.68,"m":0.79,"p":0},{"t":11.75,"m":1,"p":0},{"t":11.8,"m":1,"p":0},{"t":11.9,"m":1,"p":0},{"t":11.94,"m":0.8,"p":0},{"t":12,"m":1,"p":0},{"t":12.1,"m":1,"p":0},{"t":12.2,"m":1,"p":0},{"t":12.26,"m":1,"p":0},
      {"t":12.24,"m":0.669,"p":120},{"t":12.29,"m":0.096,"p":-55},{"t":12.32,"m":0.052,"p":160},{"t":12.35,"m":0.02,"p":-20},{"t":12.38,"m":0.052,"p":-140},
      {"t":12.4,"m":0.035,"p":75},{"t":12.5,"m":0.02,"p":-10},{"t":12.6,"m":0.03,"p":135},{"t":12.7,"m":0.015,"p":-120},{"t":12.8,"m":0.005,"p":40},{"t":12.9,"m":0.01,"p":-175},
      {"t":13,"m":1,"p":0},{"t":13.1,"m":1,"p":0},{"t":13.2,"m":1,"p":0},{"t":13.3,"m":1,"p":0},{"t":13.4,"m":1,"p":0},{"t":13.5,"m":1,"p":0},{"t":13.6,"m":1,"p":0},
      {"t":13.62,"m":0.61,"p":95},{"t":13.64,"m":0.087,"p":-40},{"t":13.78,"m":0.052,"p":165},{"t":13.95,"m":0.073,"p":-115},
      {"t":13.9,"m":0.03,"p":145},{"t":14,"m":0.05,"p":-60},{"t":14.1,"m":0.02,"p":30},{"t":14.2,"m":0.035,"p":-155},{"t":14.3,"m":0.025,"p":115},{"t":14.4,"m":0.04,"p":-20},{"t":14.5,"m":0.015,"p":170},{"t":14.6,"m":0.03,"p":-90},{"t":14.7,"m":0.02,"p":55},{"t":14.8,"m":0.01,"p":-135},{"t":14.9,"m":0.025,"p":140},{"t":15,"m":0.015,"p":-5},{"t":15.1,"m":0.03,"p":-170},{"t":15.2,"m":0.02,"p":90},{"t":15.3,"m":0.01,"p":-45},{"t":15.4,"m":0.025,"p":125},{"t":15.5,"m":0.035,"p":-110},{"t":15.6,"m":0.015,"p":15},{"t":15.7,"m":0.02,"p":160},{"t":15.8,"m":0.03,"p":-75},{"t":15.9,"m":0.01,"p":65},{"t":16,"m":0.02,"p":-145},{"t":16.1,"m":0.025,"p":100},{"t":16.2,"m":0.015,"p":-25},{"t":16.3,"m":0.03,"p":175},{"t":16.4,"m":0.01,"p":-120},{"t":16.5,"m":0.02,"p":40},{"t":16.6,"m":0.035,"p":-160},{"t":16.7,"m":0.015,"p":135},{"t":16.8,"m":0.025,"p":-55},{"t":16.9,"m":0.02,"p":80},{"t":17,"m":0.05,"p":-100},{"t":17.1,"m":0.015,"p":150},{"t":17.2,"m":0.025,"p":-15},{"t":17.3,"m":0.01,"p":110},{"t":17.4,"m":0.05,"p":-165},{"t":17.5,"m":0.02,"p":50},{"t":17.6,"m":0.03,"p":-85},{"t":17.7,"m":0.015,"p":165},{"t":17.8,"m":0.025,"p":-130},{"t":17.9,"m":0.01,"p":30}
    ]
  },
  "spacing": 44,
  "resolve": {"scale": {"color": "independent"}, "legend": {"color": "independent"}},
  "vconcat": [
    {
      "width": 774,
      "height": 363,
      "encoding": {
        "x": {"field": "t", "type": "quantitative", "scale": {"domain": [0, 18], "nice": false}, "axis": {"values": [0, 2, 4, 6, 8, 10, 12, 14, 16, 18], "title": null, "labelFont": "Liberation Serif"}},
        "y": {"field": "m", "type": "quantitative", "scale": {"domain": [0, 1.1], "nice": false, "zero": false}, "axis": {"values": [0, 0.2, 0.4, 0.6, 0.8, 1], "format": ".1f", "title": "Magnitude", "titlePadding": 8, "labelFont": "Liberation Serif", "titleFont": "Liberation Serif"}}
      },
      "layer": [
        {"data": {"name": "a"}, "mark": {"type": "square", "clip": true}, "encoding": {"color": {"datum": "15.6 Hz", "type": "nominal",
          "scale": {"domain": ["15.6 Hz", "16.4 Hz", "17.1 Hz", "17.6 Hz", "410.3 Hz", "1083.7 Hz"], "range": ["#8a2be2", "#006400", "#32cd32", "#f0e68c", "#0000ff", "#ff0000"]},
          "legend": {"title": null, "orient": "top-right", "offset": 12, "symbolType": "M -1.26 0 A 0.24 0.24 0 1 1 -1.74 0 A 0.24 0.24 0 1 1 -1.26 0 Z M 0.24 0 A 0.24 0.24 0 1 1 -0.24 0 A 0.24 0.24 0 1 1 0.24 0 Z M 1.74 0 A 0.24 0.24 0 1 1 1.26 0 A 0.24 0.24 0 1 1 1.74 0 Z", "symbolSize": 529, "symbolOffset": 15, "symbolStrokeWidth": 0, "symbolOpacity": 1, "labelFont": "Liberation Serif", "labelFontSize": 24, "labelColor": "black", "labelOffset": 30, "labelExpr": "datum.label + ' '", "padding": 8, "rowPadding": 11, "fillColor": "rgba(255,255,255,0.8)", "strokeColor": "#333333", "cornerRadius": 5}}}},
        {"data": {"name": "b"}, "mark": {"type": "square", "clip": true}, "encoding": {"color": {"datum": "16.4 Hz", "type": "nominal"}}},
        {"data": {"name": "c"}, "mark": {"type": "square", "clip": true}, "encoding": {"color": {"datum": "17.1 Hz", "type": "nominal"}}},
        {"data": {"name": "d"}, "mark": {"type": "square", "clip": true}, "encoding": {"color": {"datum": "17.6 Hz", "type": "nominal"}}},
        {"data": {"name": "e"}, "mark": {"type": "square", "clip": true}, "encoding": {"color": {"datum": "410.3 Hz", "type": "nominal"}}},
        {"data": {"name": "f"}, "mark": {"type": "square", "clip": true}, "encoding": {"color": {"datum": "1083.7 Hz", "type": "nominal"}}}
      ]
    },
    {
      "width": 774,
      "height": 363,
      "encoding": {
        "x": {"field": "t", "type": "quantitative", "scale": {"domain": [0, 18], "nice": false}, "axis": {"values": [0, 2, 4, 6, 8, 10, 12, 14, 16, 18], "title": "Time in hours since Apr 22 2019 16:04:10 UTC", "titleFontSize": 29, "titlePadding": 3, "labelFont": "Liberation Serif", "titleFont": "Liberation Serif"}},
        "y": {"field": "p", "type": "quantitative", "scale": {"domain": [-180, 180], "nice": false, "zero": false}, "axis": {"values": [-150, -100, -50, 0, 50, 100, 150], "title": "Phase [deg]", "titlePadding": 22, "labelFont": "Liberation Serif", "titleFont": "Liberation Serif"}}
      },
      "layer": [
        {"data": {"name": "a"}, "mark": {"type": "square", "clip": true}, "encoding": {"color": {"datum": "15.6 Hz", "type": "nominal",
          "scale": {"domain": ["15.6 Hz", "16.4 Hz", "17.1 Hz", "17.6 Hz", "410.3 Hz", "1083.7 Hz"], "range": ["#8a2be2", "#006400", "#32cd32", "#f0e68c", "#0000ff", "#ff0000"]},
          "legend": {"title": null, "orient": "top-right", "offset": 12, "symbolType": "M -1.26 0 A 0.24 0.24 0 1 1 -1.74 0 A 0.24 0.24 0 1 1 -1.26 0 Z M 0.24 0 A 0.24 0.24 0 1 1 -0.24 0 A 0.24 0.24 0 1 1 0.24 0 Z M 1.74 0 A 0.24 0.24 0 1 1 1.26 0 A 0.24 0.24 0 1 1 1.74 0 Z", "symbolSize": 529, "symbolOffset": 15, "symbolStrokeWidth": 0, "symbolOpacity": 1, "labelFont": "Liberation Serif", "labelFontSize": 24, "labelColor": "black", "labelOffset": 30, "labelExpr": "datum.label + ' '", "padding": 8, "rowPadding": 11, "fillColor": "rgba(255,255,255,0.8)", "strokeColor": "#333333", "cornerRadius": 5}}}},
        {"data": {"name": "b"}, "mark": {"type": "square", "clip": true}, "encoding": {"color": {"datum": "16.4 Hz", "type": "nominal"}}},
        {"data": {"name": "c"}, "mark": {"type": "square", "clip": true}, "encoding": {"color": {"datum": "17.1 Hz", "type": "nominal"}}},
        {"data": {"name": "d"}, "mark": {"type": "square", "clip": true}, "encoding": {"color": {"datum": "17.6 Hz", "type": "nominal"}}},
        {"data": {"name": "e"}, "mark": {"type": "square", "clip": true}, "encoding": {"color": {"datum": "410.3 Hz", "type": "nominal"}}},
        {"data": {"name": "f"}, "mark": {"type": "square", "clip": true}, "encoding": {"color": {"datum": "1083.7 Hz", "type": "nominal"}}}
      ]
    }
  ]
}
